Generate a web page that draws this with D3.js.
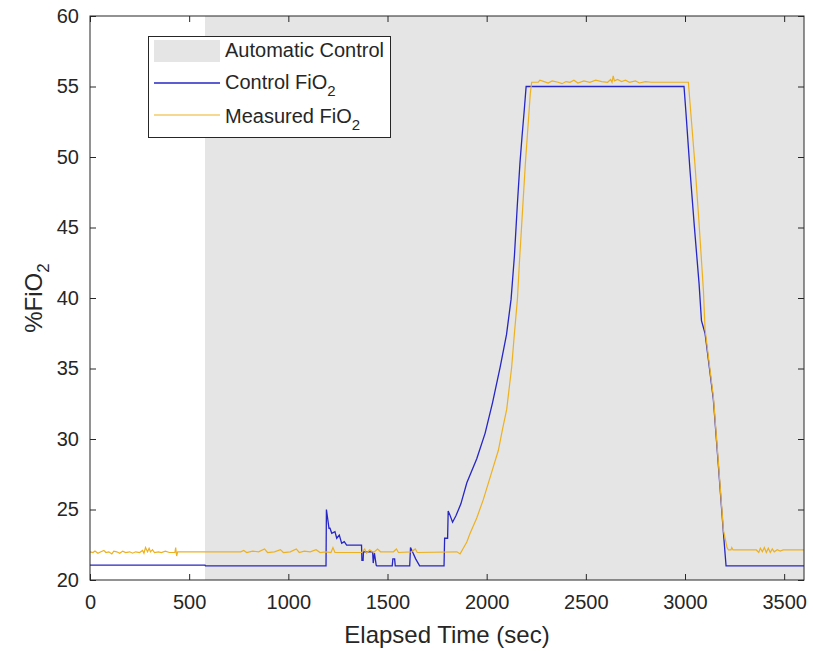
<!DOCTYPE html>
<html>
<head>
  <title>FiO2 control</title>
  <style>
    body { margin: 0; background: #fff; }
    text { font-family: "Liberation Sans", Arial, sans-serif; fill: #262626; }
  </style>
</head>
<body>
<svg width="813" height="651" class="svg-fio2"></svg>
<script src="https://cdnjs.cloudflare.com/ajax/libs/d3/7.8.5/d3.min.js"></script>
<script type="text/javascript">
  // values: [time (sec), %FiO2]
  var xTicks = [0, 500, 1000, 1500, 2000, 2500, 3000, 3500]
  var yTicks = [20, 25, 30, 35, 40, 45, 50, 55, 60]
  var autoStart = 580
  var autoEnd = 3600

  var controlFiO2 = [
    [0, 21.05], [580, 21.05], [582, 21.0], [1190, 21.0], [1192, 25.0], [1205, 23.67],
    [1210, 23.67], [1219, 23.31], [1235, 23.43], [1244, 22.96], [1257, 23.19], [1269, 22.6],
    [1282, 22.72], [1294, 22.48], [1369, 22.48], [1371, 21.4], [1377, 21.4], [1379, 22.0],
    [1425, 22.0], [1428, 21.2], [1434, 21.9], [1443, 21.05], [1446, 21.0], [1524, 21.0],
    [1527, 21.5], [1536, 21.5], [1539, 21.0], [1612, 21.0], [1616, 22.3], [1626, 22.0],
    [1642, 21.5], [1662, 21.0], [1785, 21.0], [1788, 22.96], [1803, 22.96], [1806, 24.9],
    [1815, 24.6], [1828, 24.1], [1845, 24.55], [1870, 25.4], [1900, 26.9], [1950, 28.6],
    [1992, 30.4], [2030, 32.6], [2068, 35.1], [2100, 37.4], [2123, 39.9], [2140, 43.0],
    [2155, 46.7], [2168, 49.6], [2178, 51.4], [2190, 53.4], [2199, 55.0], [2995, 55.0],
    [3005, 53.1], [3025, 49.1], [3047, 45.1], [3071, 41.0], [3083, 38.4], [3101, 37.5],
    [3120, 35.4], [3143, 32.8], [3169, 28.0], [3194, 23.3], [3207, 21.0], [3600, 21.0]
  ]

  var measuredFiO2 = [
    [0, 22.0], [15, 21.95], [25, 22.05], [40, 21.9], [55, 22.0], [70, 22.1], [80, 21.95],
    [95, 22.0], [110, 21.85], [120, 22.05], [135, 22.0], [150, 21.9], [165, 22.05],
    [180, 21.95], [200, 22.0], [215, 21.9], [230, 22.0], [250, 21.95], [265, 22.1],
    [272, 21.9], [280, 22.3], [290, 22.0], [298, 22.25], [305, 22.0], [315, 22.15],
    [325, 21.95], [345, 22.0], [360, 21.95], [380, 22.05], [400, 21.95], [428, 21.95],
    [432, 22.3], [437, 21.7], [442, 22.0], [760, 22.0], [775, 22.1], [790, 21.95],
    [820, 22.05], [850, 22.0], [880, 22.2], [895, 21.95], [930, 22.0], [960, 22.15],
    [975, 21.95], [1010, 22.0], [1040, 22.2], [1055, 21.95], [1080, 22.05], [1110, 22.0],
    [1140, 22.15], [1160, 21.95], [1190, 22.0], [1215, 21.95], [1225, 22.3], [1235, 21.95],
    [1370, 21.95], [1385, 22.2], [1395, 21.9], [1410, 22.15], [1430, 21.95], [1450, 22.2],
    [1465, 22.0], [1530, 22.0], [1545, 22.2], [1555, 21.95], [1620, 22.0], [1640, 22.2],
    [1650, 21.95], [1850, 22.0], [1866, 21.85], [1880, 22.2], [1900, 22.7], [1916, 23.3],
    [1950, 24.4], [1983, 25.7], [2020, 27.4], [2059, 29.2], [2080, 30.7], [2101, 32.1],
    [2126, 35.1], [2140, 37.5], [2155, 39.9], [2165, 42.5], [2180, 46.0], [2195, 49.5],
    [2210, 52.5], [2220, 54.5], [2227, 55.3], [2260, 55.3], [2268, 55.45], [2290, 55.35],
    [2310, 55.25], [2330, 55.4], [2360, 55.3], [2380, 55.2], [2400, 55.35], [2420, 55.3],
    [2440, 55.45], [2460, 55.25], [2490, 55.4], [2520, 55.3], [2550, 55.45], [2580, 55.35],
    [2610, 55.3], [2625, 55.5], [2632, 55.3], [2638, 55.75], [2644, 55.4], [2660, 55.5],
    [2680, 55.35], [2700, 55.45], [2720, 55.3], [2750, 55.4], [2770, 55.25], [2800, 55.35],
    [2830, 55.3], [3017, 55.3], [3030, 53.0], [3050, 49.5], [3070, 45.5], [3093, 40.5],
    [3101, 37.8], [3120, 35.6], [3143, 33.0], [3169, 28.2], [3194, 23.5], [3212, 22.3],
    [3219, 22.13], [3232, 22.13], [3236, 22.3], [3242, 22.13], [3360, 22.13], [3372, 21.95],
    [3380, 22.25], [3390, 22.0], [3400, 22.3], [3410, 21.95], [3420, 22.25], [3430, 21.95],
    [3440, 22.2], [3450, 22.0], [3465, 22.15], [3480, 22.05], [3495, 22.13], [3600, 22.13]
  ]

  var svg = d3.select('.svg-fio2')
  var plotLeft = 90, plotRight = 804, plotTop = 16, plotBottom = 580

  var x = d3.scaleLinear().domain([0, 3600]).range([plotLeft, plotRight])
  var y = d3.scaleLinear().domain([20, 60]).range([plotBottom, plotTop])

  // shaded automatic control period
  svg.append('rect')
    .attr('x', x(autoStart))
    .attr('y', plotTop)
    .attr('width', x(autoEnd) - x(autoStart))
    .attr('height', plotBottom - plotTop)
    .attr('fill', '#e5e5e5')

  var line = d3.line()
    .x(function(d){ return x(d[0]) })
    .y(function(d){ return y(d[1]) })

  svg.append('path')
    .datum(controlFiO2)
    .attr('d', line)
    .attr('fill', 'none')
    .attr('stroke', '#2626c4')
    .attr('stroke-width', 1.3)

  svg.append('path')
    .datum(measuredFiO2)
    .attr('d', line)
    .attr('fill', 'none')
    .attr('stroke', '#edb120')
    .attr('stroke-width', 1.2)

  // axes, ticks pointing inward on all four sides
  svg.append('g')
    .attr('transform', 'translate(0,' + plotBottom + ')')
    .call(d3.axisBottom(x).tickValues(xTicks).tickFormat(d3.format('d')).tickSize(-6).tickPadding(15))
  svg.append('g')
    .attr('transform', 'translate(' + plotLeft + ',0)')
    .call(d3.axisLeft(y).tickValues(yTicks).tickFormat(d3.format('d')).tickSize(-6).tickPadding(11))
  svg.append('g')
    .attr('transform', 'translate(0,' + plotTop + ')')
    .call(d3.axisTop(x).tickValues(xTicks).tickSize(-6).tickFormat(''))
  svg.append('g')
    .attr('transform', 'translate(' + plotRight + ',0)')
    .call(d3.axisRight(y).tickValues(yTicks).tickSize(-6).tickFormat(''))

  svg.selectAll('.domain').remove()
  svg.selectAll('.tick line').attr('stroke', '#262626')
  svg.selectAll('.tick text').attr('font-size', 20).attr('font-family', null).attr('fill', '#262626')

  svg.append('rect')
    .attr('x', plotLeft).attr('y', plotTop)
    .attr('width', plotRight - plotLeft).attr('height', plotBottom - plotTop)
    .attr('fill', 'none').attr('stroke', '#262626').attr('stroke-width', 1)

  // axis labels
  svg.append('text')
    .attr('x', (plotLeft + plotRight) / 2)
    .attr('y', 643)
    .attr('text-anchor', 'middle')
    .attr('font-size', 24)
    .text('Elapsed Time (sec)')

  var yl = svg.append('text')
    .attr('transform', 'translate(42,' + ((plotTop + plotBottom) / 2) + ') rotate(-90)')
    .attr('text-anchor', 'middle')
    .attr('font-size', 24)
  yl.append('tspan').text('%FiO')
  yl.append('tspan').attr('dy', 7).attr('font-size', 17).text('2')

  // legend
  var lg = svg.append('g')
  lg.append('rect')
    .attr('x', 148.5).attr('y', 36.5).attr('width', 242).attr('height', 101)
    .attr('fill', '#fff').attr('stroke', '#262626')
  lg.append('rect')
    .attr('x', 154).attr('y', 40).attr('width', 66).attr('height', 22)
    .attr('fill', '#e5e5e5')
  lg.append('line')
    .attr('x1', 154).attr('x2', 220).attr('y1', 83).attr('y2', 83)
    .attr('stroke', '#2626c4').attr('stroke-width', 1.3)
  lg.append('line')
    .attr('x1', 154).attr('x2', 220).attr('y1', 115).attr('y2', 115)
    .attr('stroke', '#edb120').attr('stroke-width', 1.2)

  lg.append('text').attr('x', 225).attr('y', 57).attr('font-size', 20).text('Automatic Control')
  var t2 = lg.append('text').attr('x', 225).attr('y', 89).attr('font-size', 20)
  t2.append('tspan').text('Control FiO')
  t2.append('tspan').attr('dy', 7).attr('font-size', 15).text('2')
  var t3 = lg.append('text').attr('x', 225).attr('y', 123).attr('font-size', 20)
  t3.append('tspan').text('Measured FiO')
  t3.append('tspan').attr('dy', 7).attr('font-size', 15).text('2')
</script>
</body>
</html>
